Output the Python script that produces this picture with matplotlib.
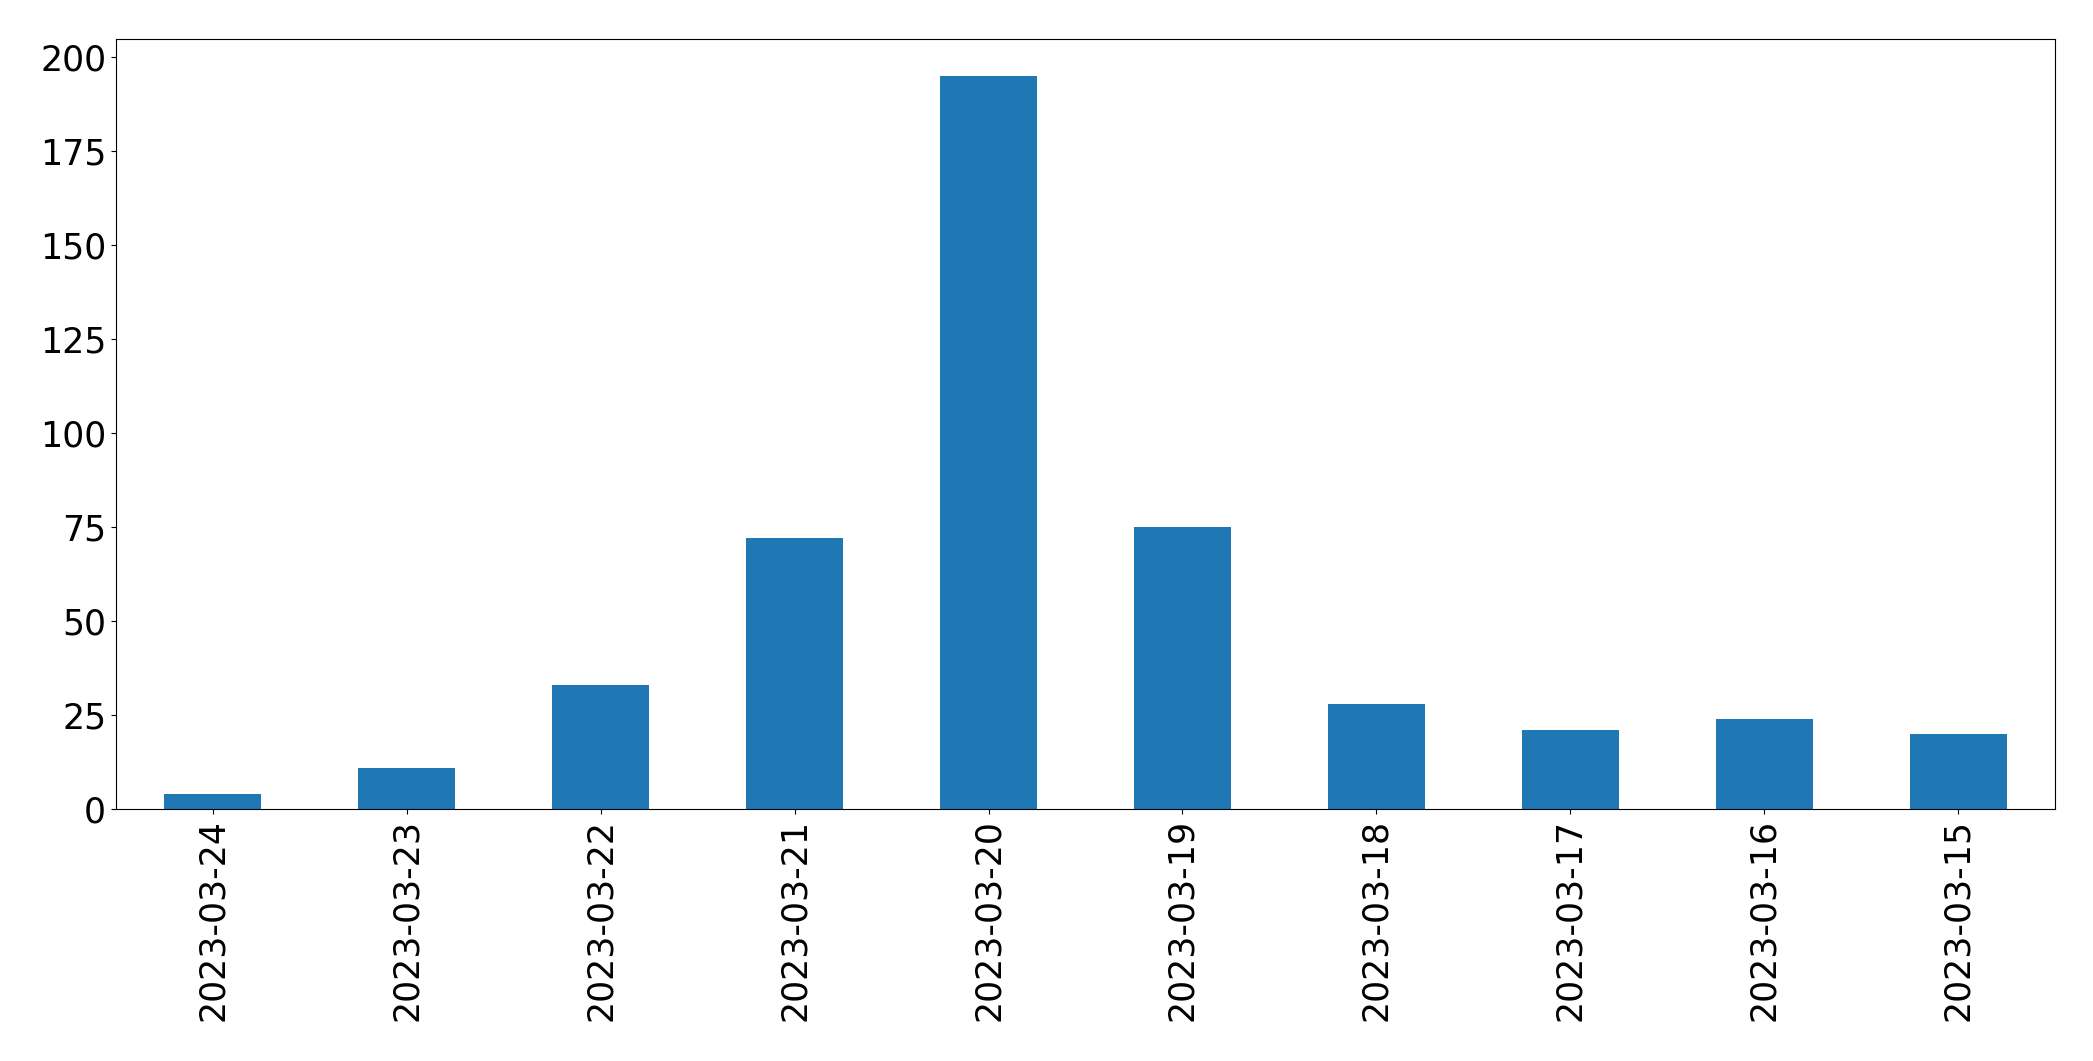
import matplotlib.pyplot as plt
import numpy as np

# dates (newest first) and counts
dates = ['2023-03-24', '2023-03-23', '2023-03-22', '2023-03-21', '2023-03-20',
         '2023-03-19', '2023-03-18', '2023-03-17', '2023-03-16', '2023-03-15']
counts = [4, 11, 33, 72, 195, 75, 28, 21, 24, 20]

fig = plt.figure(figsize=(20.93, 10.61), dpi=100)
ax = fig.add_axes([0.0554, 0.2375, 0.9265, 0.7255])

x = np.arange(len(dates))
ax.bar(x, counts, width=0.5, color='#1f77b4')
ax.set_xticks(x)
ax.set_xticklabels(dates, rotation=90)
ax.set_xlim(-0.5, len(dates) - 0.5)
ax.set_ylim(0, max(counts) * 1.05)
ax.tick_params(labelsize=25)

plt.savefig('out.png', dpi=100)
